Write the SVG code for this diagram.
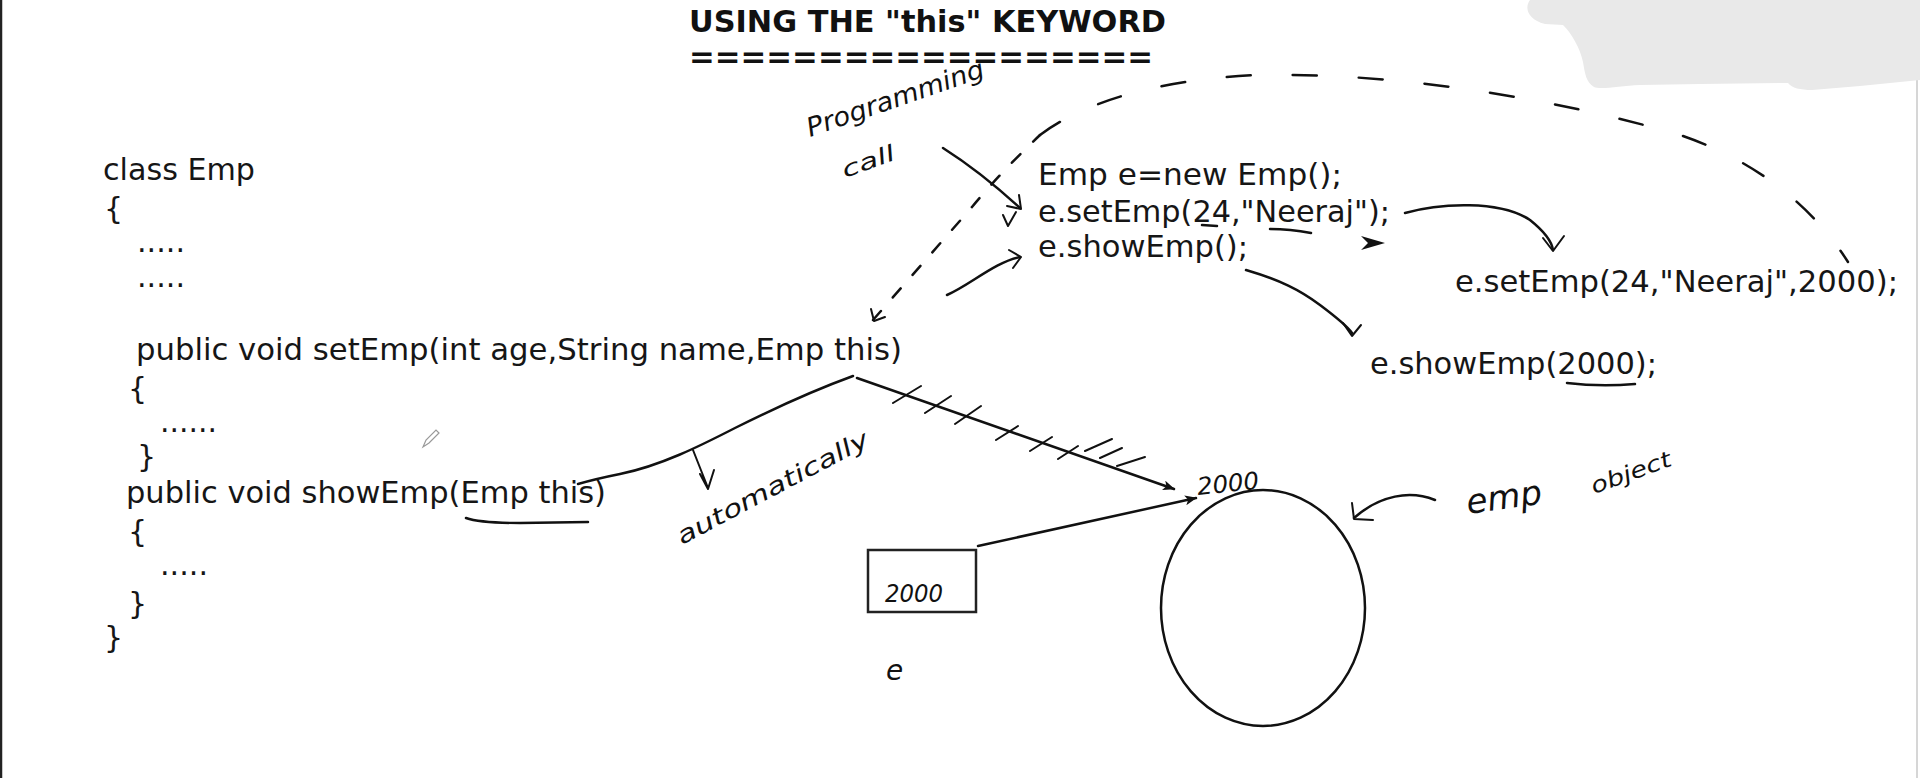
<svg xmlns="http://www.w3.org/2000/svg" width="1920" height="778" viewBox="0 0 1920 778">
<style>
.code{font-family:"DejaVu Sans",Verdana,sans-serif;font-size:30px;fill:#161616}
.title{font-family:"DejaVu Sans",Verdana,sans-serif;font-size:30px;font-weight:bold;fill:#111}
.hand{font-family:"DejaVu Sans",sans-serif;font-style:italic;fill:#111}
.ink{fill:none;stroke:#111;stroke-width:2.5;stroke-linecap:round;stroke-linejoin:round}
.thin{fill:none;stroke:#111;stroke-width:2;stroke-linecap:round;stroke-linejoin:round}
.dashS{fill:none;stroke:#111;stroke-width:2.5;stroke-linecap:round;stroke-dasharray:12 18}
.dashL{fill:none;stroke:#111;stroke-width:2.5;stroke-linecap:round;stroke-dasharray:24 42}
</style>
<defs>
<marker id="tip" viewBox="0 0 12 10" refX="11" refY="5" markerWidth="12" markerHeight="10" markerUnits="userSpaceOnUse" orient="auto">
<path d="M0 0 L12 5 L0 10 L3 5 Z" fill="#111"/>
</marker>
</defs>
<rect x="0" y="0" width="1920" height="778" fill="#ffffff"/>
<g id="frame">
<line x1="1" y1="0" x2="1" y2="778" stroke="#222" stroke-width="2.5"/>
<line x1="1917" y1="80" x2="1917" y2="778" stroke="#d6d6d6" stroke-width="2"/>
<path d="M1530 0 C1524 8 1528 20 1545 24 L1563 25 C1572 34 1580 48 1583 62 C1585 74 1586 82 1594 87 C1600 90 1620 86 1640 85 L1700 84 L1788 83 C1792 88 1800 90 1812 90 L1860 86 L1900 82 L1920 80 L1920 0 Z" fill="#e9e9e9"/>
</g>
<g id="title">
<text class="title" x="689" y="32" textLength="477" lengthAdjust="spacingAndGlyphs">USING THE "this" KEYWORD</text>
<text class="title" x="689" y="67" textLength="464" lengthAdjust="spacingAndGlyphs">==================</text>
</g>
<g id="class-emp">
<text class="code" x="103" y="180" textLength="152" lengthAdjust="spacingAndGlyphs">class Emp</text>
<text class="code" x="104" y="219">{</text>
<text class="code" x="137" y="252" textLength="48" lengthAdjust="spacingAndGlyphs">.....</text>
<text class="code" x="137" y="287" textLength="48" lengthAdjust="spacingAndGlyphs">.....</text>
<text class="code" x="136" y="360" textLength="766" lengthAdjust="spacingAndGlyphs">public void setEmp(int age,String name,Emp this)</text>
<text class="code" x="128" y="399">{</text>
<text class="code" x="160" y="432" textLength="57" lengthAdjust="spacingAndGlyphs">......</text>
<text class="code" x="137" y="467">}</text>
<text class="code" x="126" y="503" textLength="480" lengthAdjust="spacingAndGlyphs">public void showEmp(Emp this)</text>
<text class="code" x="128" y="542">{</text>
<text class="code" x="160" y="575" textLength="48" lengthAdjust="spacingAndGlyphs">.....</text>
<text class="code" x="128" y="614">}</text>
<text class="code" x="104" y="648">}</text>
</g>
<g id="calls">
<text class="code" x="1038" y="185" textLength="304" lengthAdjust="spacingAndGlyphs">Emp e=new Emp();</text>
<text class="code" x="1038" y="222" textLength="352" lengthAdjust="spacingAndGlyphs">e.setEmp(24,"Neeraj");</text>
<text class="code" x="1038" y="257" textLength="210" lengthAdjust="spacingAndGlyphs">e.showEmp();</text>
</g>
<g id="set-call">
<text class="code" x="1455" y="292" textLength="443" lengthAdjust="spacingAndGlyphs">e.setEmp(24,"Neeraj",2000);</text>
</g>
<g id="show-call">
<text class="code" x="1370" y="374" textLength="287" lengthAdjust="spacingAndGlyphs">e.showEmp(2000);</text>
</g>
<g id="ref-e">
<rect x="868" y="550" width="108" height="62" fill="none" stroke="#222" stroke-width="2.5"/>
<text class="hand" x="885" y="602" font-size="24" textLength="58" lengthAdjust="spacingAndGlyphs">2000</text>
<text class="hand" x="886" y="680" font-size="28">e</text>
</g>
<g id="emp-object">
<ellipse cx="1263" cy="608" rx="102" ry="118" fill="none" stroke="#111" stroke-width="2.5"/>
<text class="hand" x="1198" y="495" font-size="24" textLength="62" lengthAdjust="spacingAndGlyphs" transform="rotate(-6 1198 495)">2000</text>
<text class="hand" x="1468" y="514" font-size="34" textLength="76" lengthAdjust="spacingAndGlyphs" transform="rotate(-8 1468 514)">emp</text>
<text class="hand" x="1594" y="494" font-size="22" textLength="84" lengthAdjust="spacingAndGlyphs" transform="rotate(-20 1594 494)">object</text>
</g>
<g id="notes">
<text class="hand" x="810" y="137" font-size="26" textLength="186" lengthAdjust="spacingAndGlyphs" transform="rotate(-19 810 137)">Programming</text>
<text class="hand" x="845" y="178" font-size="22" textLength="55" lengthAdjust="spacingAndGlyphs" transform="rotate(-20 845 178)">call</text>
<text class="hand" x="682" y="545" font-size="24" textLength="214" lengthAdjust="spacingAndGlyphs" transform="rotate(-28 682 545)">automatically</text>
<path d="M423 447 L426 440 L436 430 L439 433 L429 443 Z" fill="#fff" stroke="#999" stroke-width="1.2"/>
</g>
<g id="connectors">
<path class="dashS" d="M873 320 L972 207 Q1000 173 1040 135"/>
<path class="dashL" d="M1040 135 C1080 105 1150 80 1257 75 C1400 72 1560 100 1680 135 C1760 162 1815 210 1848 262"/>
<path class="thin" d="M871 309 L874 321 L885 317"/>
<path class="ink" d="M943 148 C965 162 995 185 1020 208"/>
<path class="thin" d="M1007 206 L1021 209 L1019 195"/>
<path class="thin" d="M1003 215 L1008 226 L1016 212"/>
<path class="ink" d="M947 295 C970 285 995 262 1020 257"/>
<path class="thin" d="M1009 250 L1021 257 L1013 268"/>
<path class="ink" d="M1202 225 L1217 226"/>
<path class="ink" d="M1270 229 Q1290 229 1311 233"/>
<path d="M1361 236 L1385 243 L1361 250 L1368 243 Z" fill="#111"/>
<path class="ink" d="M1405 213 C1440 203 1500 200 1530 220 C1545 232 1552 243 1553 250"/>
<path class="thin" d="M1543 238 L1553 251 L1564 236"/>
<path class="ink" d="M1246 270 C1280 280 1300 290 1320 305 C1340 320 1350 330 1352 333"/>
<path class="thin" d="M1343 323 L1352 336 L1361 325"/>
<path class="ink" d="M1567 383 Q1600 387 1635 384" stroke-width="3.5"/>
<path class="ink" d="M466 518 Q480 523 520 523 L588 522"/>
<path class="ink" d="M853 376 C820 388 775 408 735 428 C700 446 660 466 620 474 C600 478 585 482 578 484"/>
<path class="ink" d="M857 378 L1174 489" marker-end="url(#tip)"/>
<path class="thin" d="M893 403 L921 386 M925 413 L951 396 M955 424 L981 406 M996 440 L1018 426 M1030 451 L1052 437 M1058 459 L1078 446 M1085 451 L1112 439 M1100 458 L1122 448 M1117 466 L1145 457"/>
<path class="ink" d="M978 546 L1196 498" marker-end="url(#tip)"/>
<path class="thin" d="M693 450 L708 488 M700 474 L708 489 L714 470"/>
<path class="ink" d="M1435 500 C1410 490 1380 495 1354 518"/>
<path class="thin" d="M1352 503 L1354 519 L1373 520"/>
</g>
</svg>
